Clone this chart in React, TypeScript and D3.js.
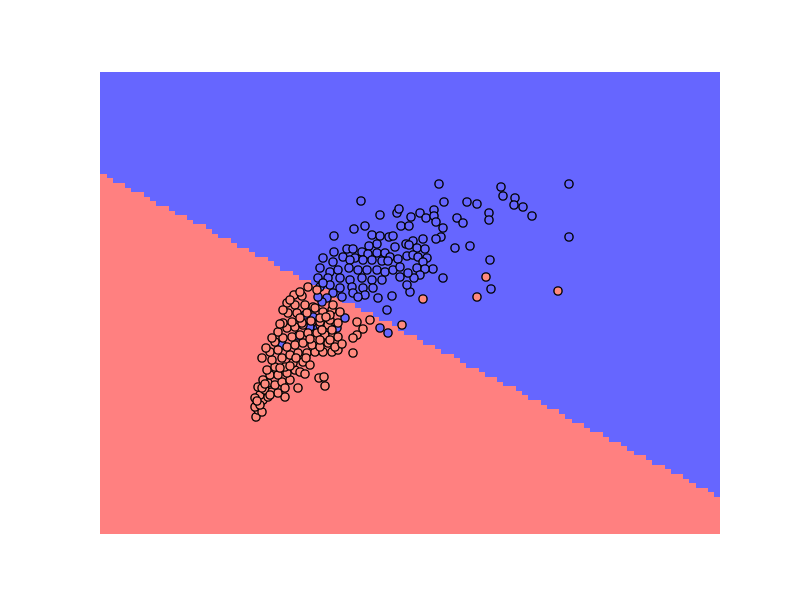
import React from "react";
import * as d3 from "d3";

// Feature ranges of the mesh (data units)
const xRange: [number, number] = [0, 62];
const yRange: [number, number] = [0, 46.2];
const meshSteps = 100;

// Linear classifier: class 1 (blue) when y > intercept + slope * x
const boundaryIntercept = 36.1;
const boundarySlope = -0.5226;

const classColors = ["#ff8080", "#6666ff"];
const pointColors = ["#ff8a7e", "#6666ff"];

// Class 1 samples
const blueX = [26.1,33.9,46.9,40.1,40.3,41.5,41.4,42.3,43.2,46.9,38.9,38.9,36.7,37.7,34.4,35.7,36.3,35.5,37.0,39.0,39.1,34.3,33.3,28.0,29.7,29.9,31.1,32.0,32.6,33.4,33.4,33.6,34.3,30.1,30.9,25.4,26.5,23.4,27.2,28.0,28.9,29.3,34.1,33.6,32.3,31.3,30.6,30.9,31.7,32.5,27.7,26.9,29.5,24.7,25.3,26.2,26.8,27.7,28.5,29.0,29.8,30.7,31.3,31.8,32.7,23.4,22.3,24.3,25.5,26.3,27.2,28.2,32.3,31.7,32.5,32.0,31.4,31.0,29.2,23.3,25.0,28.8,22.0,23.0,23.8,24.9,25.8,26.7,27.7,28.5,29.3,30.0,30.8,30.0,21.8,22.8,24.0,25.0,26.2,27.2,28.2,22.0,23.0,24.0,25.2,26.3,27.3,24.2,25.3,26.5,27.8,28.7,23.3,22.7,22.2,24.5,21.0,28.0,28.8,30.7,25.8,22.3,18.2,21.8,23.7,21.3,20.5,21.8,19.8];
const blueY = [33.3,35.0,35.0,34.7,33.8,33.6,32.9,32.7,31.8,29.7,32.1,31.4,33.2,33.0,33.2,31.6,31.1,28.6,28.8,27.4,24.5,25.6,26.5,31.9,32.1,32.5,31.7,32.1,31.6,32.4,31.8,31.2,30.6,30.8,30.8,30.5,30.8,29.8,29.9,29.8,29.7,29.8,29.7,29.5,29.5,29.3,29.0,28.9,28.6,28.5,29.0,28.8,28.7,28.5,28.5,28.2,28.0,28.1,28.1,27.7,27.5,27.8,27.9,27.7,27.6,28.2,27.6,27.7,27.6,27.4,27.4,27.3,27.2,26.6,26.5,25.9,25.6,24.2,23.8,27.2,27.4,27.3,26.6,26.2,26.4,26.6,26.4,26.4,26.4,26.2,26.4,25.7,26.1,26.7,25.6,25.6,25.6,25.4,25.6,25.4,25.4,24.7,24.9,24.6,24.7,24.6,24.6,23.7,24.1,23.9,23.6,22.4,24.1,23.6,23.2,21.6,20.7,20.6,20.1,24.9,23.7,25.1,18.9,23.7,20.6,21.7,21.9,20.6,19.8];

// Class 0 samples
const redX = [38.6,37.7,45.8,32.3,30.2,27.0,26.3,25.7,25.3,25.3,21.9,22.4,22.5,19.8,18.5,15.6,15.8,16.0,16.3,16.0,16.8,16.5,17.2,17.8,16.8,17.5,18.2,19.0,16.3,17.0,17.8,18.7,19.5,16.7,17.5,18.5,19.3,20.3,17.2,18.2,19.0,19.8,20.7,21.5,22.3,23.2,23.8,17.0,17.8,18.7,19.5,20.3,21.2,22.0,22.8,23.5,17.5,18.3,19.2,20.0,20.8,21.7,22.5,23.3,17.8,18.7,19.5,20.3,22.0,22.8,15.8,15.5,15.5,16.2,18.7,19.4,20.2,20.8,19.5,20.5,21.3,22.3,23.2,24.0,18.8,19.7,20.7,22.0,23.0,23.8,18.3,19.2,20.2,22.2,23.2,23.8,19.0,21.5,23.3,23.0,22.0,20.0,25.7,20.0,21.7,16.2,21.0,20.0,18.5,16.2,16.6,17.2,18.0,18.3,19.6,20.6,21.0,22.0,23.0,24.2,21.1,22.6,16.5,17.0,18.0,19.0,20.5,16.0,15.7];
const redY = [25.7,23.7,24.3,23.5,20.9,21.4,20.5,19.9,18.1,19.6,15.6,15.7,14.8,14.6,13.7,11.7,12.4,13.1,13.4,13.9,13.7,14.4,14.2,14.1,15.1,14.9,15.2,15.4,15.4,15.9,15.9,16.1,16.4,16.4,16.7,16.7,17.1,17.2,17.4,17.6,17.9,18.1,18.1,18.2,18.2,18.2,18.4,18.2,18.4,18.7,18.9,19.1,18.9,18.7,19.1,18.7,19.2,19.6,19.7,19.9,20.1,20.1,19.9,19.9,20.2,20.6,20.7,20.9,20.9,20.9,14.7,13.6,12.7,12.2,23.1,23.9,23.8,24.7,22.9,22.9,22.7,22.2,22.4,22.2,22.1,22.1,22.1,21.2,21.4,21.1,21.1,21.2,21.1,20.4,20.4,19.7,23.4,22.6,22.9,21.9,21.6,21.6,21.2,24.2,24.4,14.6,16.9,16.2,14.6,17.6,18.6,19.6,21.0,22.4,17.6,17.6,19.5,19.4,19.4,19.0,21.3,21.7,15.0,13.9,16.6,16.8,16.0,12.9,13.3];

const W = 800;
const H = 600;
const left = 100;
const right = 720;
const top = 72;
const bottom = 534;

export default function App() {
  const x = d3.scaleLinear().domain(xRange).range([left, right]);
  const y = d3.scaleLinear().domain(yRange).range([bottom, top]);

  const dx = (xRange[1] - xRange[0]) / meshSteps;
  const dy = (yRange[1] - yRange[0]) / meshSteps;
  const cols = d3.range(meshSteps).map((i) => {
    const cx = xRange[0] + (i + 0.5) * dx;
    const thr = boundaryIntercept + boundarySlope * cx;
    let k = 0;
    for (let j = 0; j < meshSteps; j++) {
      const cy = yRange[0] + (j + 0.5) * dy;
      if (cy <= thr) k = j + 1;
    }
    return { x0: xRange[0] + i * dx, x1: xRange[0] + (i + 1) * dx, ytop: yRange[0] + k * dy };
  });

  const blue = blueX.map((v, i) => [v, blueY[i]]);
  const red = redX.map((v, i) => [v, redY[i]]);

  return (
    <svg width={W} height={H} style={{ position: "absolute", left: 0, top: 0, background: "#fff" }}>
      <rect x={left} y={top} width={right - left} height={bottom - top} fill={classColors[1]} />
      <g shapeRendering="crispEdges">
        {cols.map((c, i) =>
          c.ytop > 0 ? (
            <rect key={i} x={x(c.x0)} y={y(c.ytop)} width={x(c.x1) - x(c.x0) + 0.3} height={y(yRange[0]) - y(c.ytop)} fill={classColors[0]} />
          ) : null
        )}
      </g>
      <g stroke="#000" strokeWidth={1.4}>
        {blue.map((p, i) => (
          <circle key={"b" + i} cx={x(p[0])} cy={y(p[1])} r={4.1} fill={pointColors[1]} />
        ))}
        {red.map((p, i) => (
          <circle key={"r" + i} cx={x(p[0])} cy={y(p[1])} r={4.1} fill={pointColors[0]} />
        ))}
      </g>
    </svg>
  );
}
